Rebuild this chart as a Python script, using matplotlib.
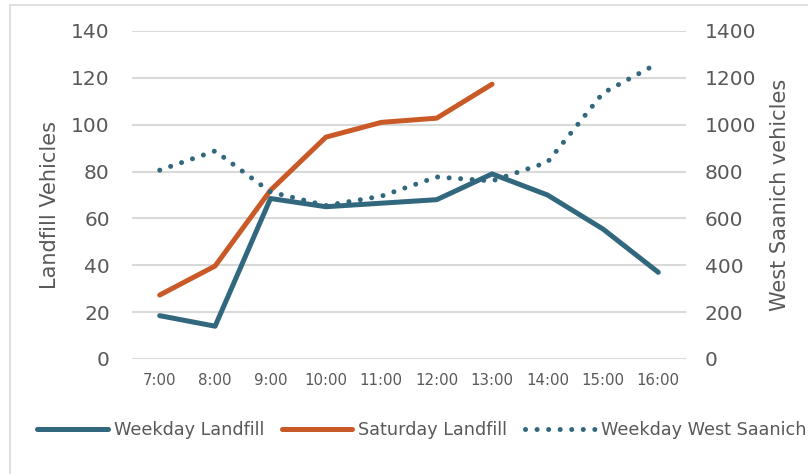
import matplotlib
matplotlib.use("Agg")
import matplotlib.pyplot as plt
from matplotlib.patches import Rectangle

hours = ["7:00", "8:00", "9:00", "10:00", "11:00", "12:00", "13:00", "14:00", "15:00", "16:00"]
weekday_landfill = [18.5, 14, 68.5, 65, 66.5, 68, 79, 70, 55.5, 37]
saturday_landfill = [27.3, 39.7, 72, 94.7, 101, 102.8, 117.3]
weekday_west_saanich = [806, 888, 713, 655, 695, 777, 760, 840, 1135, 1263]

teal = "#32687E"
orange = "#C95A28"
txt = "#595959"
grid = "#D9D9D9"

plt.rcParams['font.family'] = ['DejaVu Sans']

fig = plt.figure(figsize=(8.08, 4.74), dpi=100)
fig.patches.append(Rectangle((10/808, -0.01), 1.0, 1 - 5/474 + 0.01, transform=fig.transFigure,
                             fill=False, edgecolor="#D9D9D9", linewidth=1.2))

ax = fig.add_axes([132/808, 1 - 359/474, (686 - 132)/808, (359 - 31)/474])
x = list(range(len(hours)))

ax.set_xlim(-0.5, len(hours) - 0.5)
ax.set_ylim(0, 140)
ax.set_yticks(range(0, 141, 20))
ax.yaxis.grid(True, color=grid, linewidth=1.5)
ax.set_axisbelow(True)
for s in ax.spines.values():
    s.set_visible(False)
ax.tick_params(axis='both', length=0, colors=txt)
ax.tick_params(axis='y', labelsize=14.5, pad=16)
ax.tick_params(axis='x', labelsize=10.8, pad=10)
ax.set_xticks(x)
ax.set_xticklabels(hours)
ax.set_ylabel("Landfill Vehicles", color=txt, fontsize=15)
ax.yaxis.set_label_coords(-72/554, 0.47)

l1, = ax.plot(x, weekday_landfill, color=teal, linewidth=3.6, solid_capstyle='round',
              solid_joinstyle='round', label="Weekday Landfill", zorder=3)
l2, = ax.plot(x[:len(saturday_landfill)], saturday_landfill, color=orange, linewidth=3.6,
              solid_capstyle='round', solid_joinstyle='round', label="Saturday Landfill", zorder=3)

ax2 = ax.twinx()
ax2.set_ylim(0, 1400)
ax2.set_yticks(range(0, 1401, 200))
for s in ax2.spines.values():
    s.set_visible(False)
ax2.tick_params(axis='y', length=0, colors=txt, labelsize=14.5, pad=13.5)
ax2.set_ylabel("West Saanich vehicles", color=txt, fontsize=15)
ax2.yaxis.set_label_coords(1 + 84/554, 0.5)
l3, = ax2.plot(x, weekday_west_saanich, color=teal, linewidth=3.6, linestyle=(0, (0.01, 2.3)),
               dash_capstyle='round', label="Weekday West Saanich", zorder=3)

leg = fig.legend(handles=[l1, l2, l3], loc='center left', bbox_to_anchor=(37/808, 1 - 430/474),
                 ncol=3, frameon=False, fontsize=12.7, handlelength=4.0, handletextpad=0.34,
                 columnspacing=1.0, borderpad=0, borderaxespad=0, labelcolor=txt)

fig.savefig("out.png", dpi=100)
